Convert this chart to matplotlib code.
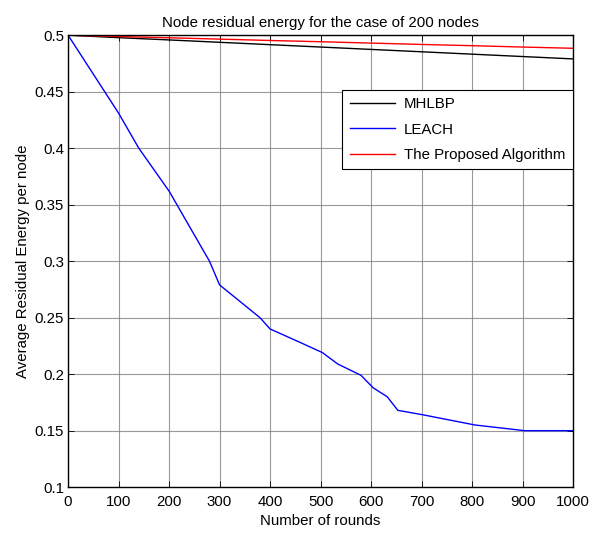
import matplotlib.pyplot as plt
from matplotlib.ticker import FuncFormatter

plt.rcParams['font.family'] = ['Liberation Sans', 'DejaVu Sans']

rounds = [0, 100, 200, 300, 400, 500, 600, 700, 800, 900, 1000]
mhlbp = [0.5, 0.4978, 0.4958, 0.4937, 0.4916, 0.4895, 0.4874, 0.4853, 0.4832, 0.4811, 0.479]
proposed = [0.5, 0.4988, 0.4977, 0.4965, 0.4953, 0.4942, 0.4930, 0.4918, 0.4907, 0.4895, 0.4884]

leach_x = [0, 100, 140, 200, 280, 300, 380, 400, 460, 504, 534, 580, 604, 632, 653, 703, 806, 904, 1000]
leach_y = [0.5, 0.431, 0.40, 0.362, 0.30, 0.279, 0.25, 0.24, 0.228, 0.219, 0.209, 0.199, 0.188, 0.18, 0.168, 0.164, 0.155, 0.15, 0.15]

fig = plt.figure(figsize=(5.92, 5.33), dpi=100)
ax = fig.add_axes([0.115, 0.086, 0.853, 0.848])

ax.plot(rounds, mhlbp, color='black', lw=1.0, label='MHLBP')
ax.plot(leach_x, leach_y, color='blue', lw=1.0, label='LEACH')
ax.plot(rounds, proposed, color='red', lw=1.0, label='The Proposed Algorithm')

ax.set_xlim(0, 1000)
ax.set_ylim(0.1, 0.5)
ax.set_xticks(range(0, 1001, 100))
ax.set_yticks([0.1, 0.15, 0.2, 0.25, 0.3, 0.35, 0.4, 0.45, 0.5])
ax.yaxis.set_major_formatter(FuncFormatter(lambda v, p: ('%g' % round(v, 2))))
ax.tick_params(direction='in', top=True, right=True, labelsize=10.8, length=4, width=0.6)
ax.tick_params(axis='x', pad=6)
ax.tick_params(axis='y', pad=3)
ax.grid(True, color='#808080', lw=0.8, ls='-', alpha=0.8)
for s in ax.spines.values():
    s.set_linewidth(1.0)

ax.set_title('Node residual energy for the case of 200 nodes', fontsize=10.8, pad=6)
ax.set_xlabel('Number of rounds', fontsize=10.8, labelpad=3)
ax.set_ylabel('Average Residual Energy per node', fontsize=10.8, labelpad=3)

leg = ax.legend(loc='upper right', bbox_to_anchor=(0.9995, 0.879), fontsize=10.8,
                fancybox=False, framealpha=1, edgecolor='black', borderaxespad=0,
                handlelength=3.0, handletextpad=0.6, labelspacing=0.75, borderpad=0.5)
leg.get_frame().set_linewidth(0.8)

fig.savefig('out.png', dpi=100)
